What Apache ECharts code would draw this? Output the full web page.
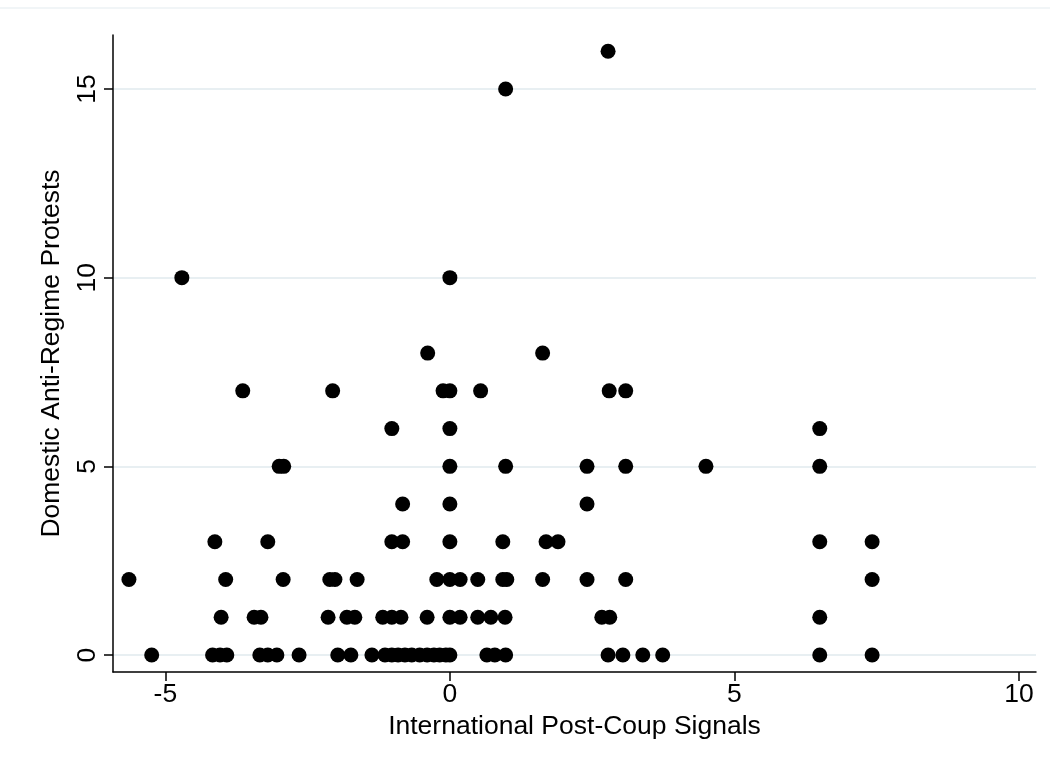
<!DOCTYPE html>
<html>
<head>
<meta charset="utf-8">
<script src="https://cdn.jsdelivr.net/npm/echarts@6/dist/echarts.min.js"></script>
<style>
html,body{margin:0;padding:0;background:#fff;}
#chart{width:1050px;height:769px;}
</style>
</head>
<body>
<div id="chart"></div>
<script>
// International post-coup signals (x) for each observed protest count (y)
const signalsAt0 = [-5.24,-4.17,-4.04,-3.92,-3.34,-3.20,-3.04,-2.65,-1.97,-1.74,-1.37,-1.14,-1.02,-0.91,-0.79,-0.67,-0.53,-0.40,-0.28,-0.18,-0.07,0,0.65,0.79,0.98,2.78,3.04,3.39,3.74,6.5,7.42];
const signalsAt1 = [-4.02,-3.44,-3.32,-2.14,-1.81,-1.67,-1.18,-1.02,-0.86,-0.40,0,0.18,0.49,0.72,0.97,2.67,2.81,6.5];
const signalsAt2 = [-5.64,-3.94,-2.93,-2.11,-2.02,-1.63,-0.23,0,0.18,0.49,0.93,1.0,1.63,2.41,3.09,7.42];
const signalsAt3 = [-4.13,-3.20,-1.02,-0.83,0,0.93,1.69,1.90,6.5,7.42];
const signalsAt4 = [-0.83,0,2.41];
const signalsAt5 = [-3.0,-2.92,0,0.98,2.41,3.09,4.5,6.5];
const signalsAt6 = [-1.02,0,6.5];
const signalsAt7 = [-3.64,-2.06,-0.12,0,0.54,2.80,3.09];
const signalsAt8 = [-0.39,1.63];
const signalsAt10 = [-4.71,0];
const signalsAt15 = [0.98];
const signalsAt16 = [2.78];

const protestLevels = [0,1,2,3,4,5,6,7,8,10,15,16];
const signalGroups = [signalsAt0,signalsAt1,signalsAt2,signalsAt3,signalsAt4,signalsAt5,signalsAt6,signalsAt7,signalsAt8,signalsAt10,signalsAt15,signalsAt16];

const xTicks = [-5,0,5,10];
const yTicks = [0,5,10,15];
const xTitle = 'International Post-Coup Signals';
const yTitle = 'Domestic Anti-Regime Protests';

const points = [];
signalGroups.forEach((g,i)=>g.forEach(x=>points.push([x, protestLevels[i]])));

const chart = echarts.init(document.getElementById('chart'), null, {renderer:'canvas'});
const font = 'Liberation Sans, Arial, Helvetica, sans-serif';
const fs = 26.5;
chart.setOption({
  backgroundColor:'#ffffff',
  animation:false,
  graphic:[{type:'line',shape:{x1:0,y1:8,x2:1050,y2:8},style:{stroke:'#edf2f4',lineWidth:1.5},silent:true}],
  grid:{left:113,right:14,top:35,bottom:97,containLabel:false},
  xAxis:{
    type:'value', min:-5.92, max:10.3,
    name:xTitle, nameLocation:'middle', nameGap:41,
    nameTextStyle:{fontFamily:font,fontSize:fs,color:'#000'},
    axisLine:{show:true,onZero:false,lineStyle:{color:'#000',width:1.5}},
    axisTick:{show:true,length:9,lineStyle:{color:'#000',width:1.5},customValues:xTicks},
    axisLabel:{fontFamily:font,fontSize:fs,color:'#000',margin:9,customValues:xTicks},
    splitLine:{show:false}
  },
  yAxis:{
    type:'value', min:-0.45, max:16.43,
    name:yTitle, nameLocation:'middle', nameGap:48, nameRotate:90,
    nameTextStyle:{fontFamily:font,fontSize:fs,color:'#000'},
    axisLine:{show:true,onZero:false,lineStyle:{color:'#000',width:1.5}},
    axisTick:{show:true,length:9,lineStyle:{color:'#000',width:1.5},customValues:yTicks},
    axisLabel:{fontFamily:font,fontSize:fs,color:'#000',margin:12,rotate:90,customValues:yTicks},
    splitLine:{show:false}
  },
  series:[{
    type:'scatter',
    data:points,
    symbol:'circle',
    symbolSize:15,
    itemStyle:{color:'#000',opacity:1},
    markLine:{
      silent:true, symbol:['none','none'], label:{show:false},
      lineStyle:{color:'#e8eff2',width:2,type:'solid'},
      data:yTicks.map(v=>({yAxis:v})),
      z:0
    },
    z:5
  }]
});
</script>
</body>
</html>
